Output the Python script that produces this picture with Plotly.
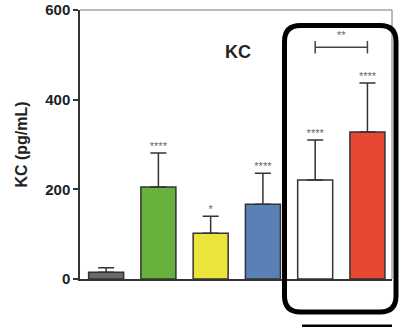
import plotly.graph_objects as go

# data
groups = ["g1", "g2", "g3", "g4", "g5", "g6"]
kc_mean = [15, 205, 102, 167, 221, 328]
kc_err = [10, 76, 38, 69, 89, 109]
bar_colors = ["#6a6a6a", "#67b23c", "#ece33b", "#5b80b6", "#ffffff", "#e64832"]
stars = ["", "****", "*", "****", "****", "****"]
y_ticks = [0, 200, 400, 600]

# comparison bracket between group 5 and 6
bracket_pair = (4, 5)
bracket_y = 517
bracket_label = "**"

W, H = 399, 327
L, R, T, B = 80, 7, 10, 48
pw, ph = W - L - R, H - T - B


def px(x):  # pixel -> paper x
    return (x - L) / pw


def py(y):  # pixel -> paper y
    return (H - B - y) / ph


fig = go.Figure()

fig.add_trace(go.Bar(
    x=list(range(len(groups))),
    y=kc_mean,
    width=0.67,
    marker=dict(color=bar_colors, line=dict(color="#333333", width=1.5)),
    error_y=dict(type="data", array=kc_err, arrayminus=[0] * len(kc_err),
                 symmetric=False, color="#333333", thickness=1.5, width=8),
    hoverinfo="skip",
))

# significance stars above the error bars
fig.add_trace(go.Scatter(
    x=list(range(len(groups))),
    y=[m + e for m, e in zip(kc_mean, kc_err)],
    mode="text",
    text=stars,
    textposition="top center",
    textfont=dict(size=11, color="#666666", family="Liberation Sans"),
    cliponaxis=False,
    hoverinfo="skip",
))

# bracket
a, b = bracket_pair
fig.add_shape(type="line", x0=a, x1=b, y0=bracket_y, y1=bracket_y,
              line=dict(color="#444444", width=1.5))
for xv in (a, b):
    fig.add_shape(type="line", x0=xv, x1=xv, y0=bracket_y - 14, y1=bracket_y + 14,
                  line=dict(color="#444444", width=1.5))
fig.add_annotation(x=(a + b) / 2, y=bracket_y, text=bracket_label, showarrow=False,
                   yanchor="bottom", yshift=4,
                   font=dict(size=11, color="#666666", family="Liberation Sans"))

# frame top / right (thin gray)
fig.add_shape(type="line", xref="paper", yref="paper", x0=0, x1=px(392), y0=1, y1=1,
              line=dict(color="#777777", width=1))
fig.add_shape(type="line", xref="paper", yref="paper", x0=px(392), x1=px(392), y0=1, y1=0,
              line=dict(color="#777777", width=1))

# rounded highlight box
x0, x1, y0, y1, r = 284.5, 396, 25.5, 312, 16
path = (f"M {px(x0 + r)},{py(y0)} L {px(x1 - r)},{py(y0)} "
        f"Q {px(x1)},{py(y0)} {px(x1)},{py(y0 + r)} "
        f"L {px(x1)},{py(y1 - r)} Q {px(x1)},{py(y1)} {px(x1 - r)},{py(y1)} "
        f"L {px(x0 + r)},{py(y1)} Q {px(x0)},{py(y1)} {px(x0)},{py(y1 - r)} "
        f"L {px(x0)},{py(y0 + r)} Q {px(x0)},{py(y0)} {px(x0 + r)},{py(y0)} Z")
fig.add_shape(type="path", xref="paper", yref="paper", path=path,
              line=dict(color="#000000", width=5))
# top edge of the next box, cut off at the bottom
fig.add_shape(type="line", xref="paper", yref="paper", x0=px(302), x1=px(392),
              y0=py(326), y1=py(326), line=dict(color="#000000", width=3))

fig.add_annotation(xref="paper", yref="paper", x=px(238), y=py(40), text="<b>KC</b>",
                   showarrow=False, font=dict(size=18, color="#222222", family="Liberation Sans"))

fig.update_layout(
    width=W, height=H,
    margin=dict(l=L, r=R, t=T, b=B),
    paper_bgcolor="white", plot_bgcolor="white",
    showlegend=False,
    font=dict(family="Liberation Sans", color="#222222"),
    xaxis=dict(range=[-0.5, 5.47], showticklabels=False, ticks="", showgrid=False,
               zeroline=False, showline=True, linecolor="#333333", linewidth=1.5),
    yaxis=dict(range=[0, 600], tickvals=y_ticks, ticks="outside", ticklen=5,
               tickwidth=1.5, tickcolor="#333333", showgrid=False, zeroline=False,
               showline=True, linecolor="#333333", linewidth=1.5, automargin=False,
               tickfont=dict(size=15, family="Liberation Sans", weight="bold", color="#222222"),
               title=dict(text="<b>KC (pg/mL)</b>", standoff=14,
                          font=dict(size=16, family="Liberation Sans", color="#222222"))),
)

fig.write_html("out.html", config={"displayModeBar": False},
               post_script="document.body.style.margin='0';")
